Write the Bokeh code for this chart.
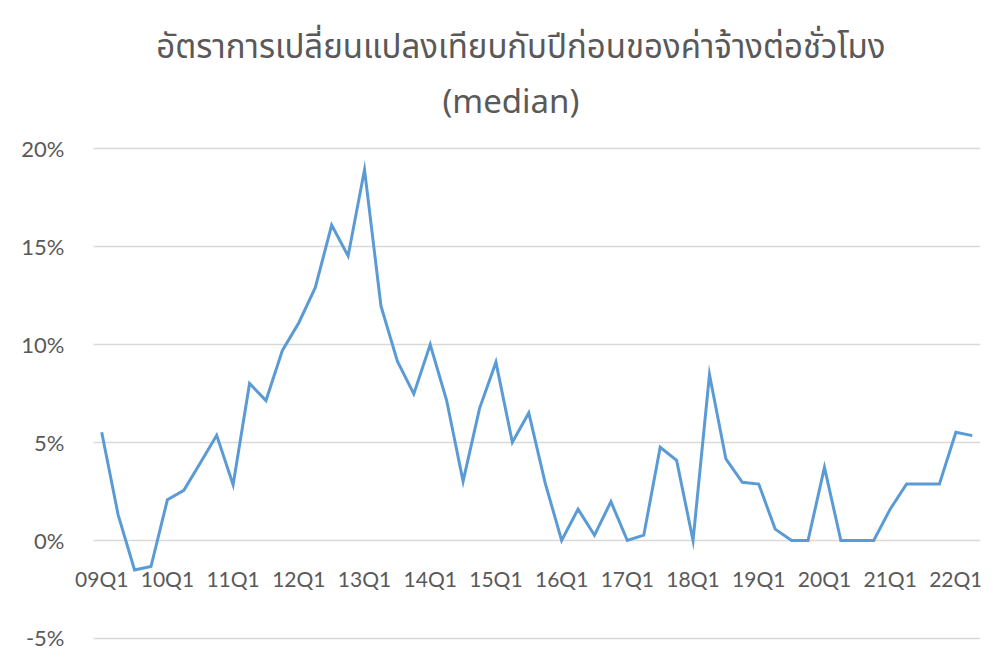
from bokeh.plotting import figure
from bokeh.models import Range1d, FixedTicker, PrintfTickFormatter
from bokeh.core.properties import value
from bokeh.embed import file_html
from bokeh.resources import INLINE

quarters = []
for yr in range(9, 23):
    for q in range(1, 5):
        quarters.append(f"{yr:02d}Q{q}")
quarters = quarters[:54]

values = [5.52, 1.31, -1.50, -1.33, 2.08, 2.56, 3.95, 5.37,
          2.85, 8.01, 7.14, 9.70, 11.11, 12.90, 16.09, 14.52,
          18.92, 11.97, 9.15, 7.48, 10.00, 7.14, 3.02, 6.73,
          9.10, 5.01, 6.51, 2.93, 0.0, 1.60, 0.27, 1.98,
          0.0, 0.27, 4.76, 4.09, 0.0, 8.47, 4.16, 2.97,
          2.88, 0.58, 0.0, 0.0, 3.73, 0.0, 0.0, 0.0,
          1.60, 2.88, 2.88, 2.88, 5.52, 5.35]

tick_labels = ["09Q1", "10Q1", "11Q1", "12Q1", "13Q1", "14Q1", "15Q1",
               "16Q1", "17Q1", "18Q1", "19Q1", "20Q1", "21Q1", "22Q1"]
y_ticks = [-5, 0, 5, 10, 15, 20]

title_line1 = "อัตราการเปลี่ยนแปลงเทียบกับปีก่อนของค่าจ้างต่อชั่วโมง"
title_line2 = "(median)"

n = len(values)
x = list(range(n))
tick_pos = [quarters.index(t) for t in tick_labels]

TEXT = "#595959"
THAI_FONT = "Noto Sans Thai, Leelawadee UI, Tahoma, Noto Sans, sans-serif"

# px per category ~16.43, px per 1% = 19.6
p = figure(width=986, height=650, output_backend="svg", toolbar_location=None,
           x_range=Range1d(-0.5 - 23 / 16.43, n - 0.5),
           y_range=Range1d(-100 / 19.6, 20 + 140 / 19.6),
           min_border_left=70, min_border_right=6, min_border_bottom=10,
           min_border_top=8,
           background_fill_color="white", border_fill_color="white")
p.title = None
p.outline_line_color = None
p.grid.visible = False

# horizontal gridlines spanning the category area only
p.segment(x0=[-0.5] * len(y_ticks), x1=[n - 0.5] * len(y_ticks),
          y0=y_ticks, y1=y_ticks, line_color="#d9d9d9", line_width=1.3)

p.yaxis.ticker = FixedTicker(ticks=y_ticks)
p.yaxis.formatter = PrintfTickFormatter(format="%d%%")
p.yaxis.axis_line_color = None
p.yaxis.major_tick_line_color = None
p.yaxis.minor_tick_line_color = None
p.yaxis.major_tick_out = 0
p.yaxis.major_tick_in = 0
p.yaxis.major_label_standoff = 6
p.yaxis.major_label_text_font = "Lato"
p.yaxis.major_label_text_font_size = "22px"
p.yaxis.major_label_text_color = TEXT

p.xaxis.visible = False

# category labels under the 0% line (axis crosses at zero)
p.text(x=tick_pos, y=[0] * len(tick_pos), text=tick_labels,
       text_align="center", text_baseline="alphabetic", y_offset=38,
       text_font=value("Lato"), text_font_size="21px", text_color=TEXT)

p.line(x, values, line_color="#5b9bd5", line_width=3, line_join="miter")

# two-line title
p.text(x=[25.52], y=[20 + 101 / 19.6], text=[title_line1], text_align="center",
       text_baseline="alphabetic", text_font=value(THAI_FONT),
       text_font_size="33px", text_color=TEXT)
p.text(x=[24.91], y=[20 + 46 / 19.6], text=[title_line2], text_align="center",
       text_baseline="alphabetic", text_font=value(THAI_FONT),
       text_font_size="33px", text_color=TEXT)

open("out.html", "w").write(file_html(p, INLINE))
